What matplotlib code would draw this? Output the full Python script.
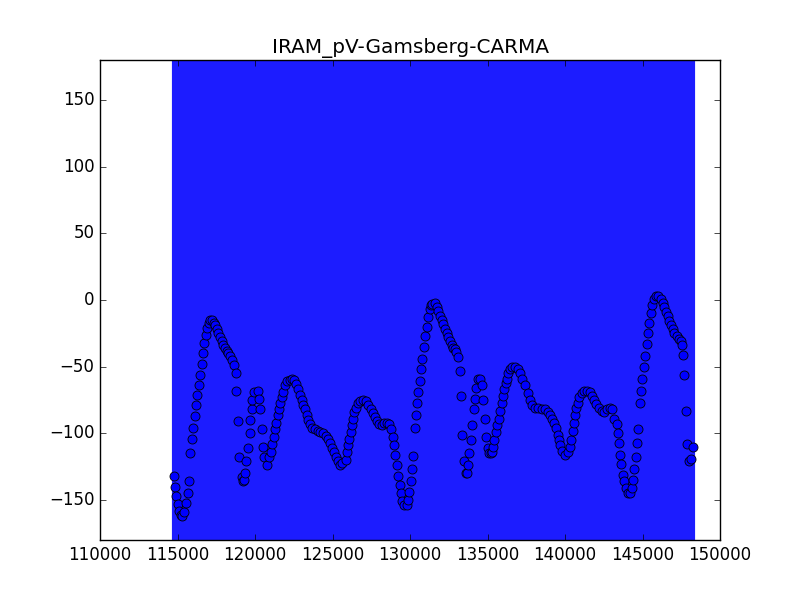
import numpy as np
import matplotlib
matplotlib.use("Agg")
import matplotlib.pyplot as plt

# frequency / channel axis and phase values
freq = [114790, 114860, 114900, 115010, 115100, 115210, 115310, 115440, 115550, 115700,
        115760, 115830, 115950, 116020, 116130, 116190, 116260, 116370, 116470, 116600,
        116660, 116730, 116860, 116920, 117010, 117120, 117250, 117350, 117440, 117550,
        117630, 117740, 117850, 117960, 118060, 118170, 118280, 118410, 118540, 118660,
        118750, 118790, 118900, 118970, 119140, 119210, 119270, 119350, 119420, 119570,
        119660, 119700, 119790, 119830, 119920, 120170, 120280, 120320, 120430, 120520,
        120560, 120790, 120920, 121010, 121120, 121230, 121290, 121370, 121460, 121550,
        121630, 121720, 121830, 121960, 122080, 122240, 122410, 122540, 122660, 122790,
        122900, 123010, 123120, 123230, 123340, 123440, 123570, 123700, 123870, 124050,
        124210, 124410, 124560, 124690, 124820, 124950, 125080, 125210, 125340, 125480,
        125630, 125850, 125920, 125980, 126060, 126170, 126240, 126300, 126390, 126500,
        126630, 126770, 126950, 127140, 127310, 127460, 127610, 127760, 127890, 128020,
        128170, 128340, 128500, 128650, 128770, 128900, 128970, 129050, 129180, 129250,
        129350, 129420, 129500, 129630, 129790, 129890, 129950, 130040, 130110, 130210,
        130320, 130370, 130450, 130540, 130630, 130710, 130790, 130900, 130970, 131080,
        131180, 131270, 131350, 131440, 131610, 131720, 131830, 131940, 132050, 132150,
        132260, 132370, 132470, 132580, 132690, 132790, 132900, 132990, 133080, 133250,
        133290, 133370, 133500, 133590, 133700, 133760, 133830, 133940, 134020, 134150,
        134190, 134260, 134370, 134520, 134660, 134730, 134860, 134920, 135010, 135100,
        135230, 135310, 135370, 135440, 135570, 135630, 135740, 135830, 135920, 136020,
        136080, 136170, 136260, 136340, 136470, 136600, 136770, 136950, 137100, 137250,
        137450, 137630, 137740, 137890, 138060, 138280, 138500, 138710, 138880, 139030,
        139180, 139310, 139440, 139530, 139610, 139700, 139830, 140000, 140170, 140300,
        140390, 140500, 140580, 140650, 140730, 140820, 140920, 141080, 141250, 141420,
        141590, 141720, 141870, 142020, 142190, 142370, 142540, 142710, 142880, 143050,
        143180, 143370, 143440, 143500, 143570, 143630, 143740, 143830, 143920, 144050,
        144190, 144300, 144410, 144470, 144560, 144670, 144730, 144860, 144920, 144990,
        145120, 145180, 145310, 145370, 145440, 145550, 145630, 145740, 145870, 146020,
        146170, 146300, 146410, 146520, 146630, 146730, 146840, 146950, 147050, 147210,
        147350, 147480, 147530, 147630, 147700, 147810, 147870, 148000, 148130, 148280]

phase = [-132, -140, -147, -153, -158, -161, -162, -159, -152, -145,
         -136, -115, -104, -96, -87, -79, -71, -64, -56, -48,
         -40, -32, -26, -21, -17, -15, -15, -17, -19, -22,
         -25, -28, -31, -34, -36, -38, -40, -42, -45, -49,
         -55, -68, -91, -118, -133, -136, -135, -130, -121, -111,
         -100, -90, -82, -75, -69, -68, -74, -82, -97, -110,
         -118, -124, -118, -114, -108, -103, -97, -92, -86, -82,
         -77, -73, -69, -64, -61, -60, -59, -60, -63, -67,
         -71, -75, -79, -82, -86, -90, -93, -96, -97, -98,
         -99, -100, -102, -104, -107, -111, -114, -118, -121, -124,
         -122, -120, -114, -109, -104, -99, -94, -89, -84, -81,
         -77, -76, -75, -76, -79, -82, -85, -88, -91, -93,
         -94, -92, -92, -93, -97, -103, -109, -116, -124, -132,
         -139, -145, -151, -154, -154, -150, -144, -136, -127, -117,
         -96, -86, -77, -69, -61, -52, -44, -35, -27, -20,
         -13, -7, -4, -3, -2, -5, -8, -12, -15, -18,
         -22, -25, -28, -31, -34, -36, -37, -39, -43, -53,
         -72, -101, -121, -130, -130, -124, -115, -105, -94, -82,
         -74, -66, -59, -59, -64, -75, -89, -103, -111, -115,
         -115, -114, -110, -105, -99, -94, -89, -83, -77, -72,
         -67, -62, -59, -55, -52, -50, -50, -52, -55, -59,
         -64, -70, -75, -79, -81, -81, -82, -82, -84, -86,
         -89, -92, -96, -101, -105, -109, -113, -116, -114, -110,
         -105, -98, -92, -86, -81, -77, -73, -70, -68, -68,
         -69, -72, -75, -78, -81, -83, -84, -82, -81, -82,
         -89, -93, -100, -107, -116, -123, -131, -136, -141, -145,
         -145, -141, -135, -127, -118, -107, -97, -77, -68, -59,
         -50, -42, -33, -25, -17, -10, -4, 1, 3, 3,
         1, -2, -5, -9, -12, -16, -19, -22, -25, -27,
         -29, -31, -34, -41, -56, -83, -108, -121, -119, -110]

phase_err = 360

plt.style.use('classic')
fig = plt.figure(figsize=(8, 6), dpi=100)
ax = fig.add_subplot(111)

ax.errorbar(freq, phase, yerr=phase_err, fmt='o', color='b', ecolor='#1c1cff',
            mec='k', ms=6.5, mew=0.6, elinewidth=3.0, capsize=0)

ax.set_xlim(110000, 150000)
ax.set_ylim(-180, 180)
ax.set_title("IRAM_pV-Gamsberg-CARMA")

fig.savefig("out.png", dpi=100, facecolor='w')
